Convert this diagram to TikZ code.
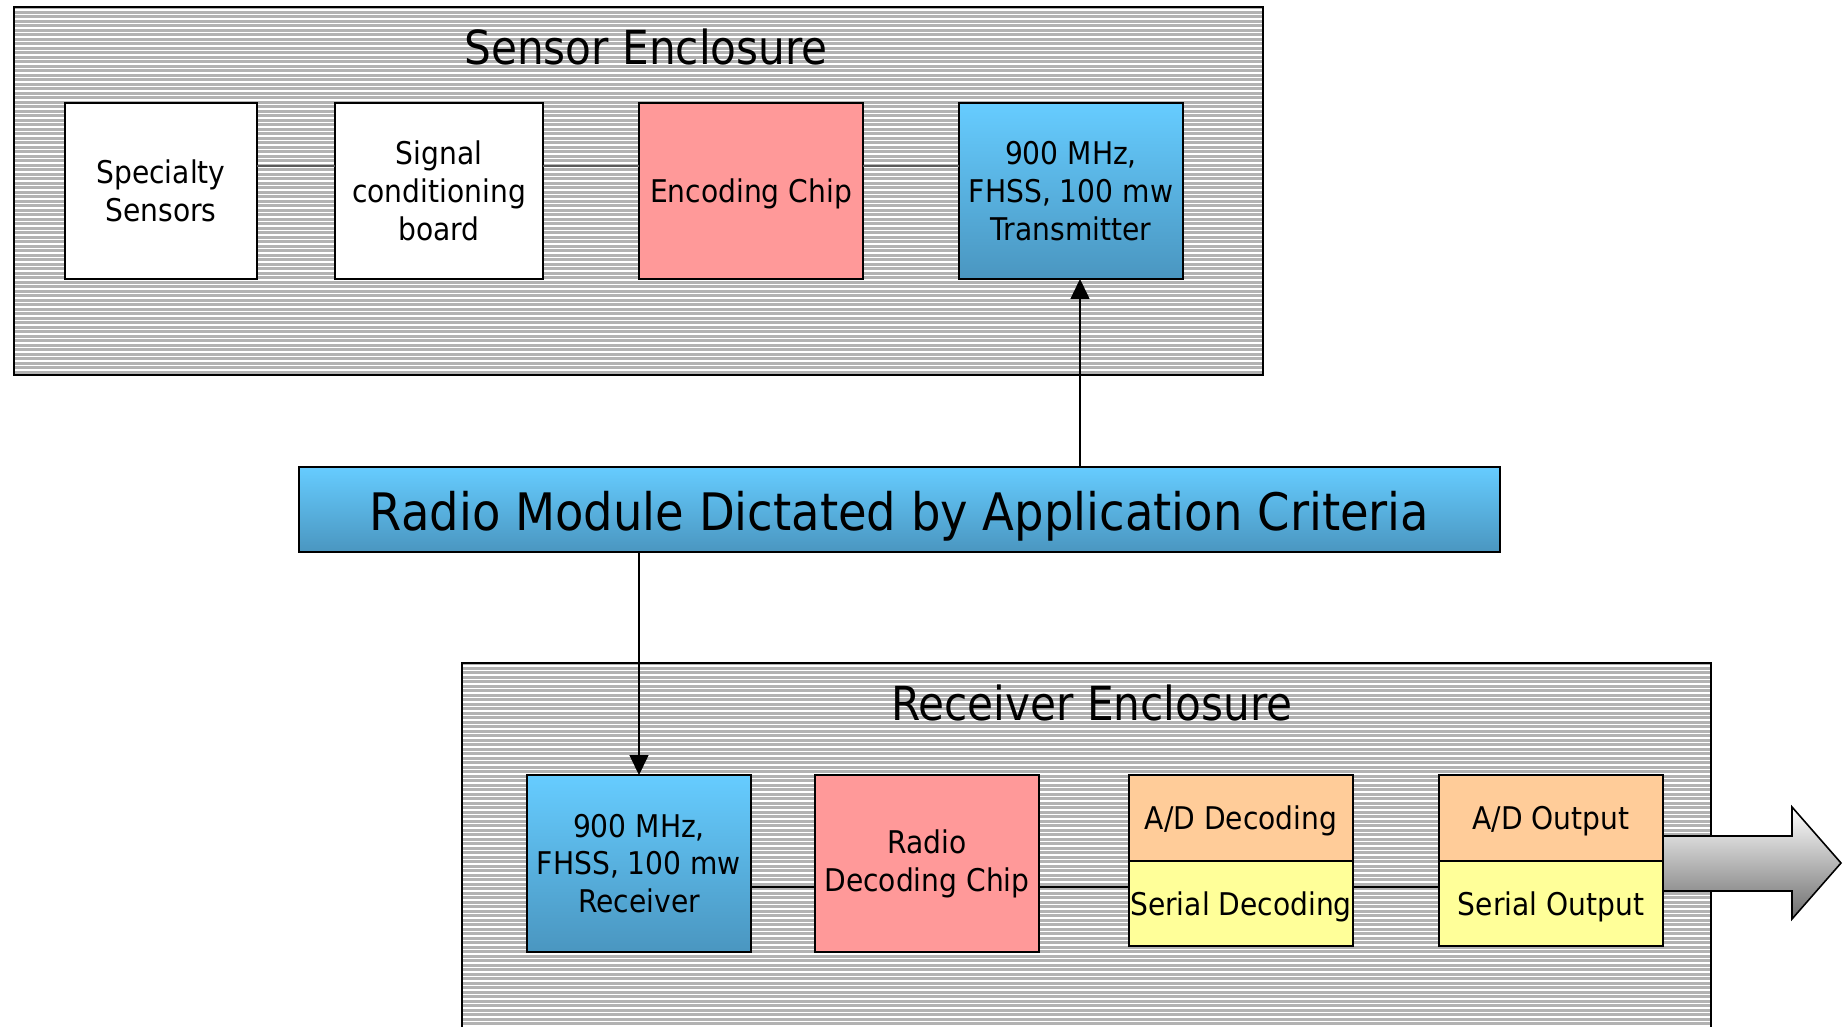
\documentclass[tikz,border=0pt]{standalone}
\usepackage{fontspec}
\setmainfont{DejaVu Sans}[FakeStretch=0.9]
\usetikzlibrary{arrows.meta,calc}
\definecolor{stripegray}{RGB}{178,178,178}
\definecolor{pinkc}{RGB}{255,153,153}
\definecolor{orangec}{RGB}{255,204,153}
\definecolor{yellowc}{RGB}{255,255,153}
\definecolor{bluetop}{RGB}{102,204,255}
\definecolor{bluebot}{RGB}{74,150,192}
\definecolor{conngray}{RGB}{90,90,90}
\newcommand{\boxfont}{\fontsize{17.8}{21.5}\selectfont}
\newcommand{\titlefont}{\fontsize{26.7}{32}\selectfont}
\newcommand{\barfont}{\fontsize{29.4}{36}\selectfont}
\begin{document}
\begin{tikzpicture}[x=0.02cm,y=-0.02cm,
  encl/.style={fill=stripegray, draw=none, inner sep=0, outer sep=0, anchor=north west},
  enclborder/.style={draw=black, line width=1.1pt},
  stripe/.style={draw=white, line width=0.75pt},
  box/.style={draw=black, line width=1.1pt, inner sep=0, outer sep=0, align=center, font=\boxfont, minimum width=4.48cm, minimum height=3.52cm},
  oneline/.style={text height=13.6pt, text depth=0pt},
  bluegrad/.style={top color=bluetop, bottom color=bluebot},
  title/.style={font=\titlefont, anchor=base, inner sep=0},
  conn/.style={draw=conngray, line width=0.6pt},
  connb/.style={draw=black, line width=0.6pt},
  arr/.style={draw=black, line width=0.85pt, -{Triangle[width=0.38cm,length=0.4cm]}},
  outarrow/.style={draw=black, line width=0.9pt, top color=white, bottom color=black!57}
]
\useasboundingbox (0,0) rectangle (1843,1027);
\begin{scope}
\clip (0,0) rectangle (1843,1027);
% Sensor enclosure
\node[encl, minimum width=24.98cm, minimum height=7.36cm] (senc) at (14,7) {};
\foreach \yy in {10,14.5,...,373} \draw[stripe] (15,\yy) -- (1262,\yy);
\draw[enclborder] (senc.north west) rectangle (senc.south east);
\node[title] (stitle) at (646,65) {Sensor Enclosure};
% Receiver enclosure
\node[encl, minimum width=24.98cm, minimum height=7.6cm] (renc) at (462,663) {};
\foreach \yy in {666,670.5,...,1030} \draw[stripe] (463,\yy) -- (1710,\yy);
\draw[enclborder] (renc.north west) rectangle (renc.south east);
\node[title] (rtitle) at (1092,720) {Receiver Enclosure};

% sensor boxes
\coordinate (sl) at (0,166);
\node[box, fill=white, minimum width=3.84cm] (spec) at (161,191) {Specialty\\Sensors};
\node[box, fill=white, minimum width=4.16cm] (sig) at (439,191) {Signal\\conditioning\\board};
\node[box, oneline, fill=pinkc] (enc) at (751,191) {Encoding Chip};
\node[box, bluegrad] (tx) at (1071,191) {900 MHz,\\FHSS, 100 mw\\Transmitter};
\draw[conn] (spec.east |- sl) -- (sig.west |- sl);
\draw[conn] (sig.east |- sl) -- (enc.west |- sl);
\draw[conn] (enc.east |- sl) -- (tx.west |- sl);

% bar
\node[box, bluegrad, minimum width=24.02cm, minimum height=1.7cm, font=\barfont, text height=24.4pt, text depth=0pt] (bar) at (899.5,509.5) {Radio Module Dictated by Application Criteria};

% receiver boxes
\coordinate (rl) at (0,887);
\node[box, bluegrad, minimum height=3.54cm] (rx) at (639,863.5) {900 MHz,\\FHSS, 100 mw\\Receiver};
\node[box, fill=pinkc, minimum height=3.54cm] (rdc) at (927,863.5) {Radio\\Decoding Chip};
\node[box, oneline, fill=orangec, minimum height=1.72cm] (add) at (1241,818) {A/D Decoding};
\node[box, oneline, fill=yellowc, minimum height=1.7cm] (sdec) at (1241,903.5) {Serial Decoding};
\node[box, oneline, fill=orangec, minimum height=1.72cm] (ado) at (1551,818) {A/D Output};
\node[box, oneline, fill=yellowc, minimum height=1.7cm] (sout) at (1551,903.5) {Serial Output};
\draw[connb] (rx.east |- rl) -- (rdc.west |- rl);
\draw[connb] (rdc.east |- rl) -- (sdec.west |- rl);
\draw[connb] (sdec.east |- rl) -- (sout.west |- rl);

% arrows
\coordinate (upx) at (1080,0);
\draw[arr] (upx |- bar.north) -- (upx |- tx.south);
\draw[arr] (rx.north |- bar.south) -- (rx.north);

% output arrow
\draw[outarrow] (ado.east |- 0,836) -- (1792,836) -- (1792,807) -- (1841,863) -- (1792,919) -- (1792,891) -- (sout.east |- 0,891) -- cycle;
\end{scope}
\end{tikzpicture}
\end{document}
